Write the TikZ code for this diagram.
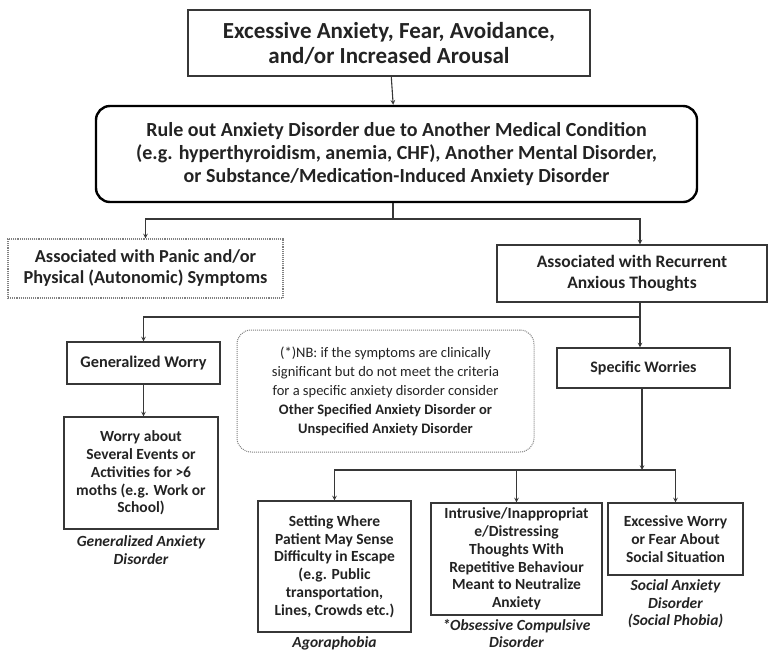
\documentclass[tikz,border=0pt]{standalone}
\usepackage{fontspec}
\setmainfont{Carlito}
\usepackage{tikz}
\usetikzlibrary{arrows, positioning}
\definecolor{LineGrey}{RGB}{55,55,55}
\definecolor{TextGrey}{RGB}{35,35,35}

\begin{document}
\begin{tikzpicture}[
    x=1pt, y=-1pt,
    node distance=3pt,
    box/.style={rectangle, draw=LineGrey, line width=1.1pt, align=center, inner sep=2pt,
                text=TextGrey, font=\fontsize{15.5}{17.8}\selectfont\bfseries},
    softbox/.style={box, draw=gray, densely dotted},
    rulebox/.style={box, draw=black, line width=2.4pt, rounded corners=14pt},
    notebox/.style={rectangle, draw=gray, densely dotted, line width=1pt, rounded corners=14pt,
                    align=center, text=TextGrey, font=\fontsize{14.5}{19}\selectfont},
    caption/.style={align=center, text=TextGrey, font=\fontsize{15.5}{17.5}\selectfont\bfseries\itshape},
    line/.style={draw=LineGrey, line width=1.1pt},
    arrow/.style={->, >=stealth, line, shorten >=0pt}
]
\useasboundingbox (0,0) rectangle (768,654);

% top of the chart
\node[box, font=\fontsize{23}{25}\selectfont\bfseries, minimum width=402pt, minimum height=66pt]
    (onset) at (389,43) {Excessive Anxiety, Fear, Avoidance,\\and/or Increased Arousal};

\node[rulebox, font=\fontsize{20}{23}\selectfont\bfseries, minimum width=601pt, minimum height=96pt]
    (ruleout) at (396.5,154) {Rule out Anxiety Disorder due to Another Medical Condition\\
    (e.g. hyperthyroidism, anemia, CHF), Another Mental Disorder,\\
    or Substance/Medication-Induced Anxiety Disorder};

% first split
\node[softbox, font=\fontsize{18.3}{21}\selectfont\bfseries, minimum width=275pt, minimum height=59pt]
    (panic) at (145.5,268.5) {Associated with Panic and/or\\Physical (Autonomic) Symptoms};

\node[box, font=\fontsize{17.5}{21}\selectfont\bfseries, minimum width=270pt, minimum height=57pt]
    (recurrent) at (632,273.5) {Associated with Recurrent\\Anxious Thoughts};

% second split
\node[box, font=\fontsize{16.3}{18}\selectfont\bfseries, minimum width=153pt, minimum height=42pt]
    (genworry) at (143.5,363) {Generalized Worry};

\node[box, font=\fontsize{16}{18}\selectfont\bfseries, minimum width=173pt, minimum height=40pt]
    (specworry) at (643.5,368) {Specific Worries};

\node[notebox, minimum width=297pt, minimum height=122pt] (note) at (385.5,391)
    {(*)NB: if the symptoms are clinically\\
     significant but do not meet the criteria\\
     for a specific anxiety disorder consider\\
     \textbf{Other Specified Anxiety Disorder or}\\
     \textbf{Unspecified Anxiety Disorder}};

% leaves
\node[box, minimum width=154pt, minimum height=112pt] (several) at (141,473)
    {Worry about\\Several Events or\\Activities for >6\\moths (e.g. Work or\\School)};
\node[caption, below=3pt of several] (gad) {Generalized Anxiety\\Disorder};

\node[box, minimum width=153pt, minimum height=131pt] (escape) at (334.5,566.5)
    {Setting Where\\Patient May Sense\\Difficulty in Escape\\(e.g. Public\\transportation,\\Lines, Crowds etc.)};
\node[caption, below=1pt of escape] (agora) {Agoraphobia};

\node[box, minimum width=171pt, minimum height=112pt] (intrusive) at (516.5,559)
    {Intrusive/Inappropriat\\e/Distressing\\Thoughts With\\Repetitive Behaviour\\Meant to Neutralize\\Anxiety};
\node[caption, below=0pt of intrusive] (ocd) {*Obsessive Compulsive\\Disorder};

\node[box, minimum width=135pt, minimum height=72pt] (social) at (675.5,539)
    {Excessive Worry\\or Fear About\\Social Situation};
\node[caption, below=1pt of social] (sad) {Social Anxiety\\Disorder\\(Social Phobia)};

% junctions
\coordinate (split1) at (393,219);
\coordinate (split2) at (640,317);
\coordinate (split3) at (642,470);

\draw[arrow] (onset) -- (ruleout);
\draw[line] (ruleout.south -| split1) -- (split1);
\draw[arrow] (split1) -| (panic);
\draw[arrow] (split1) -| (recurrent.north -| split2);

\draw[line] (recurrent.south -| split2) -- (split2);
\draw[arrow] (split2) -| (genworry);
\draw[arrow] (split2) -- (specworry.north -| split2);
\draw[arrow] (genworry.south) -- (genworry.south |- several.north);

\draw[arrow] (specworry.south -| split3) -- (split3);
\draw[arrow] (split3) -| (escape);
\draw[arrow] (split3) -| (intrusive);
\draw[arrow] (split3) -| (social);

\end{tikzpicture}
\end{document}
